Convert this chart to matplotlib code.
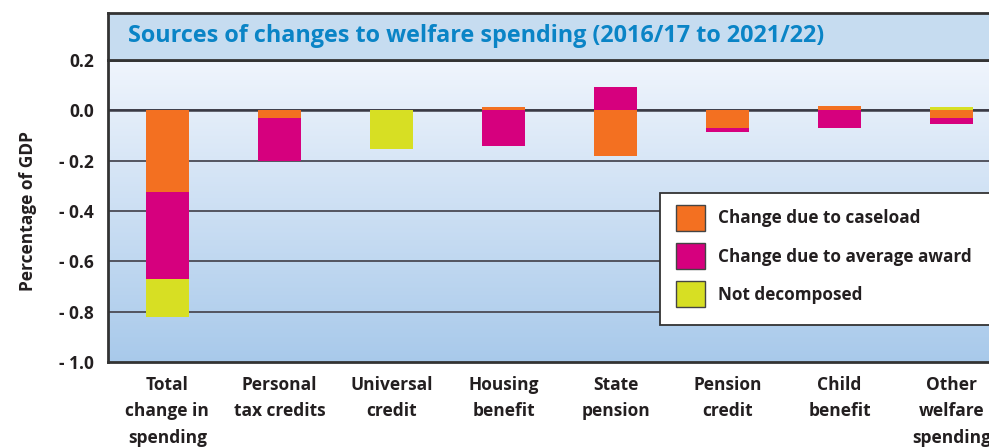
import numpy as np
import matplotlib.pyplot as plt
from matplotlib.patches import Rectangle, Patch

categories = ['Total\nchange in\nspending', 'Personal\ntax credits', 'Universal\ncredit',
              'Housing\nbenefit', 'State\npension', 'Pension\ncredit', 'Child\nbenefit',
              'Other\nwelfare\nspending']
caseload = [-0.325, -0.032, 0.0, 0.012, -0.18, -0.072, 0.016, -0.03]
avg_award = [-0.347, -0.168, 0.0, -0.14, 0.092, -0.016, -0.072, -0.025]
not_decomp = [-0.15, 0.0, -0.155, 0.0, 0.0, 0.0, 0.0, 0.012]
yticks = [0.2, 0.0, -0.2, -0.4, -0.6, -0.8, -1.0]
ytick_labels = ['0.2', '0.0', '- 0.2', '- 0.4', '- 0.6', '- 0.8', '- 1.0']

series = [('Change due to caseload', caseload, '#f37021'),
          ('Change due to average award', avg_award, '#d6007e'),
          ('Not decomposed', not_decomp, '#d7df23')]

plt.rcParams['font.family'] = ['Open Sans', 'DejaVu Sans']
plt.rcParams['font.weight'] = 'bold'
txt = '#231f20'

W, H = 989, 447
fig = plt.figure(figsize=(9.89, 4.47), dpi=100)
ax = fig.add_axes([108/W, 85/H, 903/W, 302/H])

# background gradient
grad = np.linspace(0, 1, 256).reshape(-1, 1)
top = np.array([0.94, 0.96, 0.99])
bot = np.array([0.66, 0.79, 0.92])
img = top + (bot - top) * grad[:, :, None] * np.ones((1, 1, 3))
ax.imshow(img, extent=[0, 1, 0, 1], transform=ax.transAxes, aspect='auto', zorder=0)

x = np.arange(len(categories))
pos_base = np.zeros(len(categories))
neg_base = np.zeros(len(categories))
for name, vals, col in series:
    vals = np.array(vals)
    base = np.where(vals >= 0, pos_base, neg_base)
    ax.bar(x, vals, 0.39, bottom=base, color=col, zorder=3, label=name)
    pos_base = pos_base + np.where(vals > 0, vals, 0)
    neg_base = neg_base + np.where(vals < 0, vals, 0)

ax.set_xlim(-0.53, 7.53)
ax.set_ylim(-1.0, 0.2)
ax.set_yticks(yticks)
ax.set_yticklabels(ytick_labels, fontsize=12.5, color=txt, fontweight='bold')
for yv in yticks[1:-1]:
    ax.axhline(yv, color='#4a4a55', lw=1.3, zorder=2)
ax.axhline(0, color='#3a3a45', lw=1.8, zorder=2)
ax.set_xticks(x)
ax.set_xticklabels(categories, fontsize=12.5, color=txt, fontweight='bold', linespacing=1.6)
ax.tick_params(axis='y', length=0, pad=10)
ax.tick_params(axis='x', length=0, pad=10)
for s in ax.spines.values():
    s.set_color('#333333')
    s.set_linewidth(2)
ax.set_ylabel('Percentage of GDP', fontsize=12.5, color=txt, fontweight='bold', labelpad=16)

# title band
tax = fig.add_axes([108/W, 1 - 60/H, 903/W, 47/H])
tax.set_facecolor('#c6dcf0')
tax.set_xticks([])
tax.set_yticks([])
for s in tax.spines.values():
    s.set_color('#333333')
    s.set_linewidth(2)
tax.text(20/903, 0.5, 'Sources of changes to welfare spending (2016/17 to 2021/22)',
         transform=tax.transAxes, fontsize=16.8, color='#0a84c6', fontweight='bold',
         va='center', ha='left')

# legend box
ax.add_patch(Rectangle(((660 - 108)/903, (362 - 325)/302), 400/903, 132/302,
                       transform=ax.transAxes, facecolor='white', edgecolor='#333333',
                       lw=1.3, zorder=5, clip_on=False))
handles = [Patch(facecolor=c, edgecolor='#444444', lw=1, label=n) for n, _, c in series]
leg = ax.legend(handles=handles, loc='upper left',
                bbox_to_anchor=((676 - 108)/903, (362 - 205)/302),
                fontsize=12.3, frameon=False, handlelength=1.7, handleheight=1.95,
                borderpad=0.0, labelspacing=0.72, handletextpad=0.76, borderaxespad=0)
for t in leg.get_texts():
    t.set_color(txt)
    t.set_fontweight('bold')
leg.set_zorder(6)

fig.savefig('out.png', dpi=100)
